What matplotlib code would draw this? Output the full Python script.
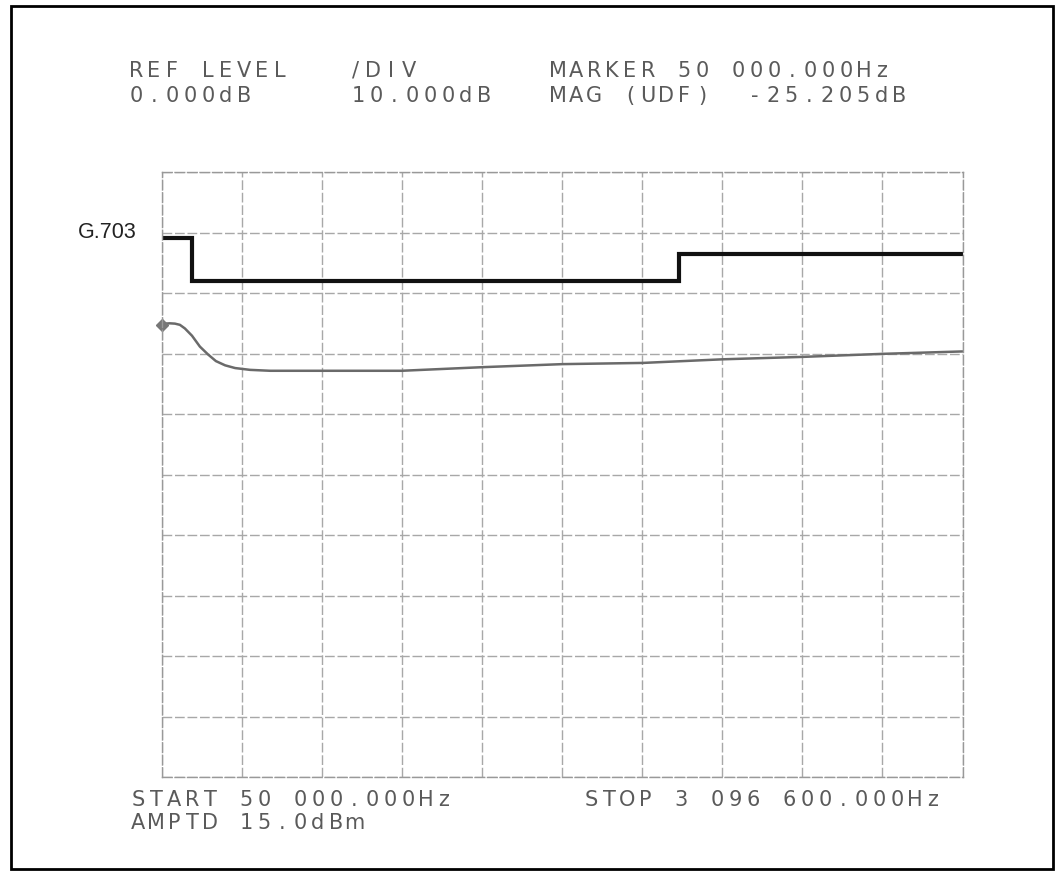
import numpy as np
import matplotlib
matplotlib.use('Agg')
import matplotlib.pyplot as plt
from matplotlib.patches import Rectangle

W, H = 1061, 872

# sweep settings (kHz, dB)
f_start = 50.0
f_stop = 3096.6
ref_level = 0.0
db_div = 10.0

# measured return loss trace
freq_khz = [50, 63, 82, 101, 120, 139, 166, 196, 227, 257, 292, 330, 387,
            463, 659, 964, 1273, 1576, 1881, 2186, 2490, 2793, 3096.6]
level_db = [-25.2, -25.0, -24.95, -25.0, -25.2, -25.8, -27.0, -28.8, -30.1,
            -31.2, -31.9, -32.35, -32.65, -32.8, -32.8, -32.8, -32.2, -31.7,
            -31.5, -30.9, -30.5, -30.0, -29.6]

# G.703 mask
mask_f = [62, 165, 165, 2018, 2018, 3096.6]
mask_db = [-10.8, -10.8, -18.0, -18.0, -13.5, -13.5]

header = [(128, 71, 'REF LEVEL'), (347, 71, '/DIV'), (550, 71, 'MARKER 50 000.000Hz'),
          (128, 96, '0.000dB'), (350, 96, '10.000dB'), (550, 96, 'MAG (UDF)'),
          (747, 96, '-25.205dB')]
footer = [(130, 800, 'START 50 000.000Hz'), (583, 800, 'STOP 3 096 600.000Hz'),
          (130, 823, 'AMPTD 15.0dBm')]

fig = plt.figure(figsize=(W / 100, H / 100), dpi=100)
ax = fig.add_axes([161.5 / W, 1 - 777 / H, 801 / W, 604.5 / H])

ax.plot(freq_khz, level_db, color='#6a6a6a', lw=1.8, solid_capstyle='round')
ax.plot(freq_khz[0], level_db[0], marker='D', ms=6, color='#777777', clip_on=False)
ax.plot(mask_f, mask_db, color='#111111', lw=3, solid_joinstyle='miter')

ax.set_xlim(f_start, f_stop)
ax.set_ylim(ref_level - 10 * db_div, ref_level)
ax.set_xticks(np.linspace(f_start, f_stop, 11))
ax.set_yticks(np.arange(-100, 1, 10))
ax.grid(True, color='#a8a8a8', lw=1.0, ls=(0, (7, 2)))
ax.tick_params(length=0, labelbottom=False, labelleft=False)
for sp in ax.spines.values():
    sp.set_color('#999999')
    sp.set_linestyle((0, (7, 2)))
    sp.set_linewidth(1.0)

ax.text(-0.031, (-10.8 - ref_level) / 100 + 1 + 0.008, 'G.703', transform=ax.transAxes,
        ha='right', va='center', fontsize=15.5, family='Liberation Sans', color='#222222')


def mono(x, y, s):
    # instrument printout: fixed 18 px character pitch
    for i, ch in enumerate(s):
        fig.text((x + i * 18 + 8) / W, 1 - y / H, ch, ha='center', va='center',
                 fontsize=15, family='DejaVu Sans', color='#5a5a5a')


for x, y, s in header + footer:
    mono(x, y, s)

fig.patches.append(Rectangle((11 / W, 1 - 869 / H), 1042 / W, 863 / H,
                             transform=fig.transFigure, fill=False, lw=2, ec='black'))

fig.savefig('out.png', dpi=100)
